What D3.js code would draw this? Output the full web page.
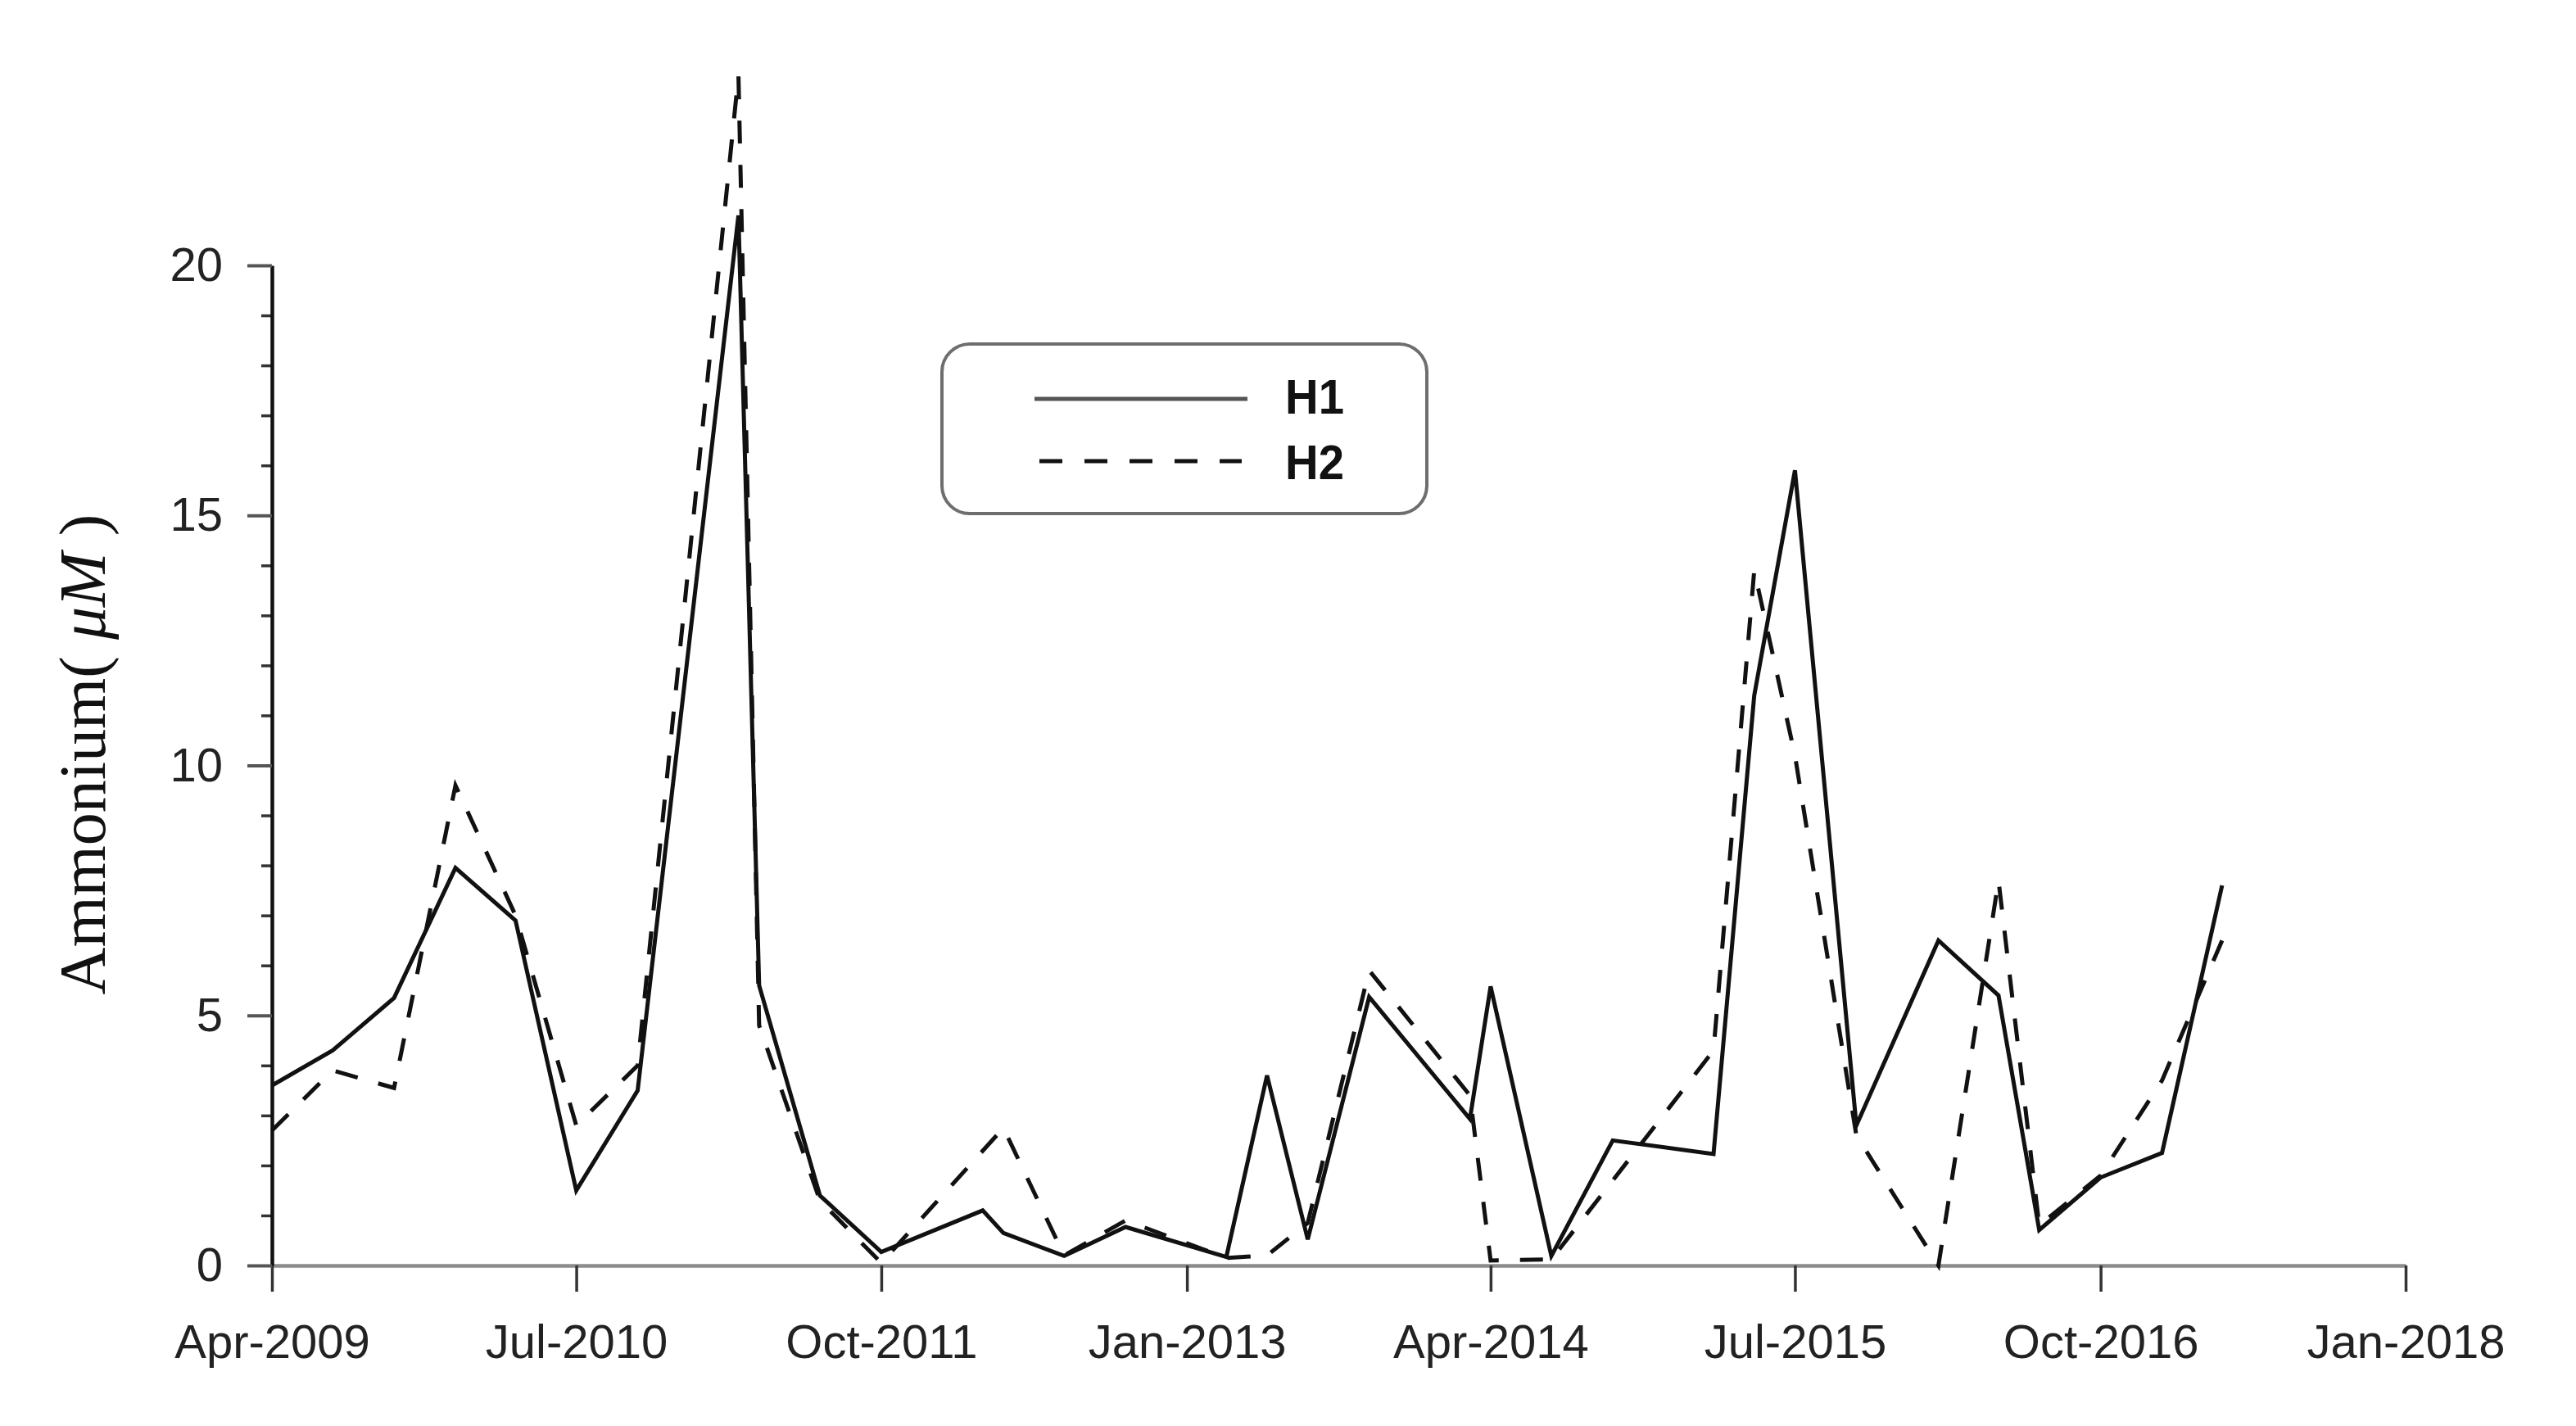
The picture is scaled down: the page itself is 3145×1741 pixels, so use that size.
<!DOCTYPE html>
<html><head><meta charset="utf-8">
<script src="https://cdn.jsdelivr.net/npm/d3@7"></script>
<style>html,body{margin:0;padding:0;background:#fff;} svg{display:block;}</style>
</head><body>
<svg id="chart" width="3145" height="1741"></svg>
<script>
// ---- data ----
const sampleDates = ["2009-04","2009-07","2009-10","2010-01","2010-04","2010-07","2010-10",
  "2011-03","2011-04","2011-07","2011-10","2012-03","2012-04","2012-07","2012-10",
  "2013-03","2013-05","2013-07","2013-10","2014-03","2014-04","2014-07","2014-10",
  "2015-03","2015-05","2015-07","2015-10","2016-02","2016-05","2016-07","2016-10",
  "2017-01","2017-04"];
const h1Values = [3.6,4.3,5.35,7.95,6.9,1.5,3.5,
  21.0,5.6,1.4,0.27,1.1,0.65,0.19,0.77,
  0.17,3.8,0.52,5.37,2.93,5.58,0.19,2.5,
  2.23,11.4,15.9,2.8,6.5,5.4,0.71,1.76,
  2.25,7.6];
const h2Values = [2.7,3.9,3.55,9.6,7.0,2.8,4.0,
  23.8,4.8,1.3,0.05,null,2.75,0.2,0.9,
  0.15,0.2,0.85,5.9,3.4,0.1,0.12,1.7,
  4.3,13.9,10.2,2.6,0.0,7.7,0.8,1.8,
  3.7,6.5];
const seriesNames = ["H1","H2"];
const xTickLabels = ["Apr-2009","Jul-2010","Oct-2011","Jan-2013","Apr-2014","Jul-2015","Oct-2016","Jan-2018"];
const yTickValues = [0,5,10,15,20];
const yMinorValues = [1,2,3,4,6,7,8,9,11,12,13,14,16,17,18,19];

// ---- scales ----
const parseD = d3.timeParse("%Y-%m");
const parseTick = d3.timeParse("%b-%Y");
const fmtTick = d3.timeFormat("%b-%Y");
const xTickDates = xTickLabels.map(parseTick);

const svg = d3.select("#chart");
svg.append("rect").attr("width",3145).attr("height",1741).attr("fill","#fff");

const x = d3.scaleTime().domain([xTickDates[0], xTickDates[xTickDates.length-1]]).range([332, 2937]);
const y = d3.scaleLinear().domain([0, 20]).range([1545, 324]);

const FONT = "'Liberation Sans', Arial, sans-serif";

// x axis
const gx = svg.append("g").attr("transform","translate(0,1545)")
  .call(d3.axisBottom(x).tickValues(xTickDates).tickFormat(fmtTick)
    .tickSize(32).tickSizeOuter(0).tickPadding(40));
gx.select(".domain").attr("stroke","#8c8c8c").attr("stroke-width",4.5);
gx.selectAll(".tick line").attr("stroke","#333").attr("stroke-width",3.5);
gx.selectAll(".tick text").attr("font-family",FONT).attr("font-size",58).attr("fill","#222");

// y axis minor ticks
const gym = svg.append("g").attr("transform","translate(332,0)")
  .call(d3.axisLeft(y).tickValues(yMinorValues).tickFormat("").tickSize(13).tickSizeOuter(0));
gym.select(".domain").remove();
gym.selectAll(".tick line").attr("stroke","#333").attr("stroke-width",3.5);

// y axis major
const gy = svg.append("g").attr("transform","translate(332,0)")
  .call(d3.axisLeft(y).tickValues(yTickValues).tickSize(30).tickSizeOuter(0).tickPadding(30));
gy.select(".domain").attr("stroke","#111").attr("stroke-width",4.5);
gy.selectAll(".tick line").attr("stroke","#555").attr("stroke-width",4);
gy.selectAll(".tick text").attr("font-family",FONT).attr("font-size",58).attr("fill","#222");

// y axis title
const yt = svg.append("text")
  .attr("transform","translate(128,921) rotate(-90)")
  .attr("text-anchor","middle")
  .attr("font-family","'Liberation Serif', 'Times New Roman', serif")
  .attr("font-size",80).attr("fill","#111");
yt.append("tspan").text("Ammonium( ");
yt.append("tspan").attr("font-style","italic").text("\u03bcM");
yt.append("tspan").text(" )");

// ---- series ----
function pts(vals){
  return sampleDates.map((d,i)=>({date: parseD(d), v: vals[i]})).filter(p=>p.v!=null);
}
const line = d3.line().x(p=>x(p.date)).y(p=>y(p.v));

svg.append("path").datum(pts(h2Values))
  .attr("d",line).attr("fill","none").attr("stroke","#111")
  .attr("stroke-width",5).attr("stroke-dasharray","28,26").attr("stroke-linejoin","miter");
svg.append("path").datum(pts(h1Values))
  .attr("d",line).attr("fill","none").attr("stroke","#111")
  .attr("stroke-width",5).attr("stroke-linejoin","miter");

// ---- legend ----
const lg = svg.append("g");
lg.append("rect").attr("x",1150).attr("y",420).attr("width",592).attr("height",207)
  .attr("rx",34).attr("ry",34).attr("fill","#fff").attr("stroke","#6e6e6e").attr("stroke-width",4);
const legendItems = [
  {name: seriesNames[0], dash: null, ly: 487, ty: 505},
  {name: seriesNames[1], dash: "28,27", ly: 563, ty: 585}
];
legendItems.forEach(it=>{
  lg.append("line").attr("x1", it.dash ? 1269 : 1263).attr("x2", it.dash ? 1516 : 1523)
    .attr("y1",it.ly).attr("y2",it.ly)
    .attr("stroke", it.dash ? "#111" : "#555").attr("stroke-width",5)
    .attr("stroke-dasharray", it.dash);
  lg.append("text").attr("x",1569).attr("y",it.ty)
    .attr("font-family",FONT).attr("font-weight","bold").attr("font-size",60)
    .attr("textLength",72).attr("lengthAdjust","spacingAndGlyphs")
    .attr("fill","#111").text(it.name);
});
</script>
</body></html>
